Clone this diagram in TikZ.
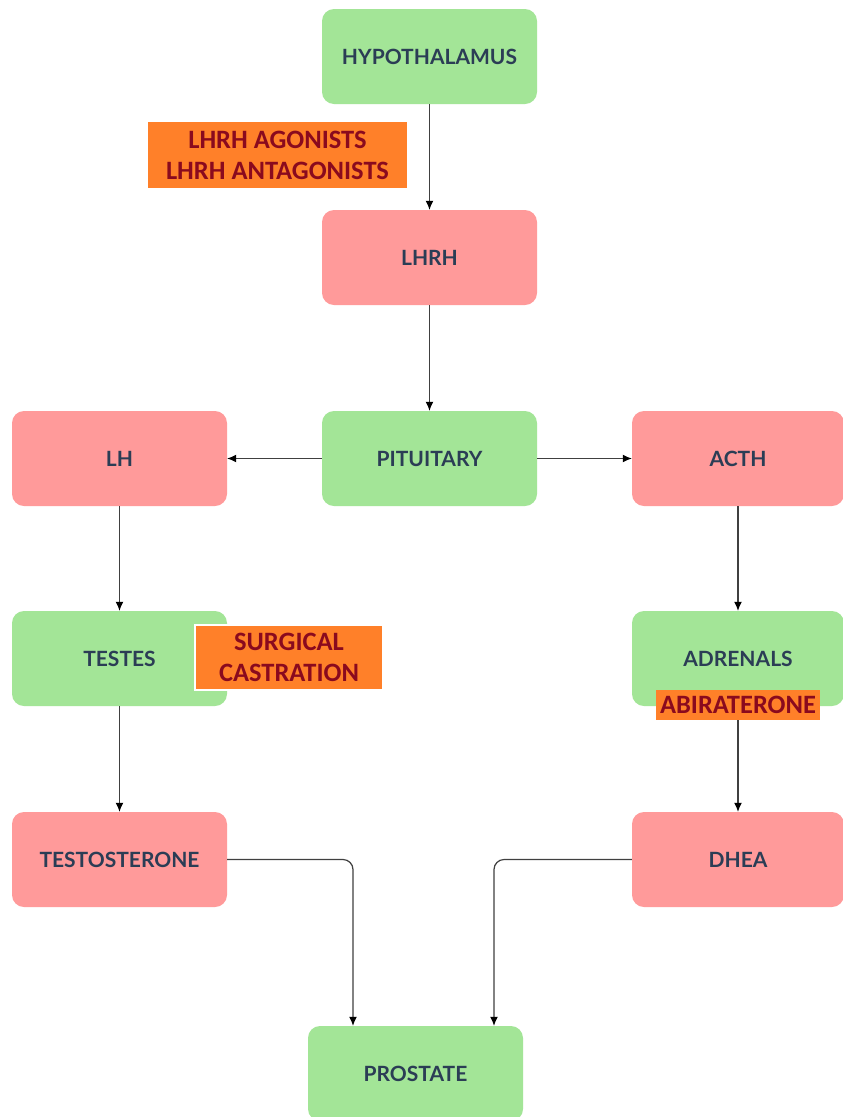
\documentclass[tikz,border=0pt]{standalone}
\usepackage{fontspec}
\setmainfont{Lato}
\newfontfamily\labfont{Carlito}
\usetikzlibrary{arrows.meta}
\definecolor{boxgreen}{HTML}{A3E597}
\definecolor{boxpink}{HTML}{FF9A9A}
\definecolor{boxorange}{HTML}{FF8029}
\definecolor{txtblue}{HTML}{2B3D55}
\definecolor{txtred}{HTML}{8A0A1E}
\definecolor{linegray}{HTML}{404040}
\begin{document}
\begin{tikzpicture}[x=1pt,y=-1pt,
 organ/.style={fill=boxgreen, rounded corners=12pt, minimum width=215pt, minimum height=95pt, inner sep=0pt, text=txtblue, font=\bfseries\fontsize{21}{25}\selectfont},
 hormone/.style={organ, fill=boxpink},
 drug/.style={fill=boxorange, text=txtred, font=\labfont\bfseries\fontsize{26.5}{31}\selectfont, align=center, inner sep=0pt},
 conn/.style={draw=linegray, line width=1.2pt, -{Latex[length=9pt,width=8pt,color=black]}, rounded corners=10pt}]
\useasboundingbox (0,0) rectangle (843,1117);
\clip (0,0) rectangle (843,1117);
\fill[white] (0,0) rectangle (843,1117);
\node[organ] (hyp) at (429.5,56.5) {HYPOTHALAMUS};
\node[hormone] (lhrh) at (429.5,257.5) {LHRH};
\node[organ] (pit) at (429.5,458.5) {PITUITARY};
\node[hormone] (lh) at (119.5,458.5) {LH};
\node[hormone, minimum width=212pt] (acth) at (738,458.5) {ACTH};
\node[organ] (tes) at (119.5,658.5) {TESTES};
\node[organ, minimum width=212pt] (adr) at (738,658.5) {ADRENALS};
\node[hormone] (testo) at (119.5,859.5) {TESTOSTERONE};
\node[hormone, minimum width=212pt] (dhea) at (738,859.5) {DHEA};
\node[organ] (pros) at (415.5,1073.5) {PROSTATE};
\draw[conn] (hyp) -- (lhrh);
\draw[conn] (lhrh) -- (pit);
\draw[conn] (pit) -- (lh);
\draw[conn] (pit) -- (acth);
\draw[conn] (lh) -- (tes);
\draw[conn] (tes) -- (testo);
\draw[conn] (acth) -- (adr);
\draw[conn] (adr) -- (dhea);
\draw[conn] (testo.east) -| ([xshift=-62.5pt]pros.north);
\draw[conn] (dhea.west) -| ([xshift=78.5pt]pros.north);
\node[drug, minimum width=259pt, minimum height=66pt] (ago) at (277.5,155) {LHRH AGONISTS\\LHRH ANTAGONISTS};
\node[drug, draw=white, line width=1.5pt, minimum width=188pt, minimum height=65pt] (surg) at (289,657.5) {SURGICAL\\CASTRATION};
\node[drug, minimum width=164pt, minimum height=30pt] (abi) at (738,705) {ABIRATERONE};
\end{tikzpicture}
\end{document}
